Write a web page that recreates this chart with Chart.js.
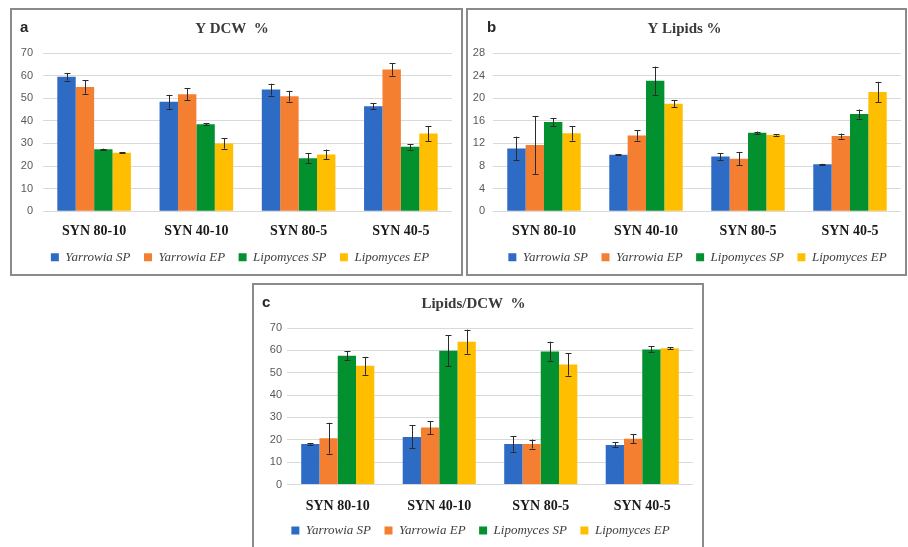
<!DOCTYPE html>
<html>
<head>
<meta charset="utf-8">
<script src="https://cdn.jsdelivr.net/npm/chart.js@4.4.1/dist/chart.umd.min.js"></script>
<style>
  html, body { margin: 0; padding: 0; background: #fff; }
  body { width: 908px; height: 547px; position: relative; overflow: hidden; }
  .panel { position: absolute; border: 2px solid #8a8a8a; box-sizing: border-box; background: #fff; }
  .panel canvas { position: absolute; left: 0; top: 0; }
  .letter { position: absolute; font: bold 15px "Liberation Sans", Arial, sans-serif; color: #262626; }
</style>
</head>
<body>
<div class="panel" id="panelA" style="left:10px; top:8px; width:453px; height:268px;">
  <canvas id="chartA" width="449" height="264"></canvas>
  <div class="letter" style="left:8px; top:8px;">a</div>
</div>
<div class="panel" id="panelB" style="left:466px; top:8px; width:441px; height:268px;">
  <canvas id="chartB" width="437" height="264"></canvas>
  <div class="letter" style="left:19px; top:8px;">b</div>
</div>
<div class="panel" id="panelC" style="left:252px; top:283px; width:452px; height:272px;">
  <canvas id="chartC" width="448" height="268"></canvas>
  <div class="letter" style="left:8px; top:8px;">c</div>
</div>

<script>
// Categories and series
const categories = ['SYN 80-10', 'SYN 40-10', 'SYN 80-5', 'SYN 40-5'];
const seriesNames = ['Yarrowia SP', 'Yarrowia EP', 'Lipomyces SP', 'Lipomyces EP'];
const seriesColors = ['#2e6bc4', '#f57f31', '#03902f', '#ffbf00'];

// a - Y DCW %
const dcwYarrowiaSP = [59.5, 48.4, 53.8, 46.5];
const dcwYarrowiaEP = [55.0, 51.8, 50.9, 62.7];
const dcwLipomycesSP = [27.4, 38.5, 23.4, 28.5];
const dcwLipomycesEP = [25.9, 30.0, 25.1, 34.4];
const dcwErrYarrowiaSP = [1.7, 3.1, 2.6, 1.4];
const dcwErrYarrowiaEP = [3.0, 2.6, 2.4, 2.7];
const dcwErrLipomycesSP = [0.3, 0.4, 2.2, 1.2];
const dcwErrLipomycesEP = [0.3, 2.3, 2.2, 3.3];

// b - Y Lipids %
const lipYarrowiaSP = [11.1, 10.0, 9.7, 8.3];
const lipYarrowiaEP = [11.7, 13.4, 9.3, 13.3];
const lipLipomycesSP = [15.8, 23.1, 13.9, 17.2];
const lipLipomycesEP = [13.8, 19.0, 13.5, 21.1];
const lipErrYarrowiaSP = [2.1, 0.1, 0.6, 0.1];
const lipErrYarrowiaEP = [5.1, 0.9, 1.2, 0.45];
const lipErrLipomycesSP = [0.7, 2.5, 0.2, 0.8];
const lipErrLipomycesEP = [1.3, 0.6, 0.1, 1.8];

// c - Lipids/DCW %
const ratioYarrowiaSP = [18.1, 21.3, 18.1, 17.7];
const ratioYarrowiaEP = [20.7, 25.5, 18.1, 20.5];
const ratioLipomycesSP = [57.6, 59.8, 59.5, 60.4];
const ratioLipomycesEP = [53.1, 63.9, 53.7, 60.9];
const ratioErrYarrowiaSP = [0.3, 5.1, 3.4, 1.1];
const ratioErrYarrowiaEP = [6.9, 2.9, 2.0, 2.0];
const ratioErrLipomycesSP = [2.0, 7.0, 4.4, 1.35];
const ratioErrLipomycesEP = [4.0, 5.4, 5.0, 0.4];

// Y axis ticks
const dcwTicks = { max: 70, step: 10 };
const lipTicks = { max: 28, step: 4 };
const ratioTicks = { max: 70, step: 10 };

// Error bars drawn from the scale
const errorBars = {
  id: 'errorBars',
  afterDatasetsDraw(chart) {
    const ctx = chart.ctx;
    const yScale = chart.scales.y;
    ctx.save();
    ctx.strokeStyle = '#2b2b2b';
    ctx.lineWidth = 1;
    chart.data.datasets.forEach((ds, di) => {
      const meta = chart.getDatasetMeta(di);
      meta.data.forEach((bar, i) => {
        const v = ds.data[i];
        const e = ds.errors[i];
        const x = Math.round(bar.x) + 0.5;
        const yTop = yScale.getPixelForValue(v + e);
        const yBot = yScale.getPixelForValue(v - e);
        ctx.beginPath();
        ctx.moveTo(x, yTop);
        ctx.lineTo(x, yBot);
        ctx.moveTo(x - 3, Math.round(yTop) + 0.5);
        ctx.lineTo(x + 3, Math.round(yTop) + 0.5);
        ctx.moveTo(x - 3, Math.round(yBot) + 0.5);
        ctx.lineTo(x + 3, Math.round(yBot) + 0.5);
        ctx.stroke();
      });
    });
    ctx.restore();
  }
};

// Nudge the legend row sideways (the original legend is not centred on the canvas)
const legendShift = {
  id: 'legendShift',
  afterLayout(chart, args, options) {
    const lg = chart.legend;
    if (!lg || !options.dx) return;
    lg.left += options.dx;
    lg.right += options.dx;
  }
};

function makeChart(id, title, values, errors, ticks, opts) {
  const datasets = seriesNames.map((name, i) => ({
    label: name,
    data: values[i],
    errors: errors[i],
    backgroundColor: seriesColors[i],
    borderWidth: 0,
    categoryPercentage: 0.72,
    barPercentage: 1.0
  }));

  return new Chart(document.getElementById(id).getContext('2d'), {
    type: 'bar',
    data: { labels: categories, datasets },
    plugins: [errorBars, legendShift],
    options: {
      responsive: false,
      animation: false,
      layout: { padding: { left: 0, right: opts.padRight, top: 0, bottom: opts.padBottom } },
      plugins: {
        title: {
          display: true,
          text: title,
          color: '#3a3a3a',
          font: { family: '"Liberation Serif", "Times New Roman", serif', size: 15 },
          padding: { top: 10, bottom: 15 }
        },
        legend: {
          position: 'bottom',
          labels: {
            boxWidth: 8,
            boxHeight: 8,
            padding: 13.5,
            color: '#404040',
            font: { family: '"Liberation Serif", "Times New Roman", serif', size: 13, style: 'italic' }
          }
        },
        legendShift: { dx: opts.legendDx },
        tooltip: { enabled: false }
      },
      scales: {
        x: {
          afterFit(scale) { scale.height = 26; },
          grid: { display: false, drawTicks: false },
          border: { display: false },
          ticks: {
            padding: opts.xPad,
            color: '#1a1a1a',
            font: { family: '"Liberation Serif", "Times New Roman", serif', size: 14, weight: 'bold' }
          }
        },
        y: {
          min: 0,
          max: ticks.max,
          afterFit(scale) { scale.width = opts.axisWidth; },
          grid: { color: '#d9d9d9', lineWidth: 1, drawTicks: false },
          border: { display: false },
          ticks: {
            stepSize: ticks.step,
            padding: opts.tickPad,
            color: '#595959',
            font: { family: '"Liberation Sans", Arial, sans-serif', size: 11 }
          }
        }
      }
    }
  });
}

makeChart('chartA', 'Y DCW  %',
  [dcwYarrowiaSP, dcwYarrowiaEP, dcwLipomycesSP, dcwLipomycesEP],
  [dcwErrYarrowiaSP, dcwErrYarrowiaEP, dcwErrLipomycesSP, dcwErrLipomycesEP],
  dcwTicks, { axisWidth: 31, tickPad: 10, padRight: 9, padBottom: 0.25, xPad: 12, legendDx: 8 });

makeChart('chartB', 'Y Lipids %',
  [lipYarrowiaSP, lipYarrowiaEP, lipLipomycesSP, lipLipomycesEP],
  [lipErrYarrowiaSP, lipErrYarrowiaEP, lipErrLipomycesSP, lipErrLipomycesEP],
  lipTicks, { axisWidth: 25, tickPad: 8, padRight: 4, padBottom: 0.25, xPad: 12, legendDx: 13 });

makeChart('chartC', 'Lipids/DCW  %',
  [ratioYarrowiaSP, ratioYarrowiaEP, ratioLipomycesSP, ratioLipomycesEP],
  [ratioErrYarrowiaSP, ratioErrYarrowiaEP, ratioErrLipomycesSP, ratioErrLipomycesEP],
  ratioTicks, { axisWidth: 33, tickPad: 5, padRight: 9, padBottom: 6, xPad: 13, legendDx: 7 });
</script>
</body>
</html>
